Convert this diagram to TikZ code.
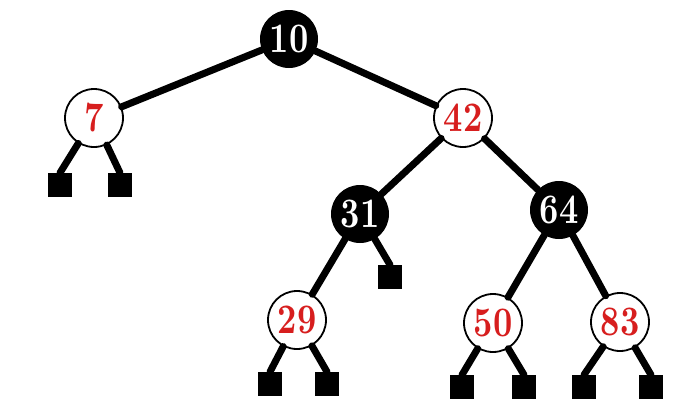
\documentclass[tikz,border=0pt]{standalone}
\usepackage{fontspec}
\setmainfont{Latin Modern Roman}
\newfontfamily\keyfont[FakeStretch=0.8]{lmroman10-bold.otf}
\begin{document}
\begin{tikzpicture}[x=1pt,y=-1pt,
  rbnode/.style={circle,minimum size=58pt,inner sep=0pt,font=\keyfont\fontsize{42}{42}\selectfont},
  blk/.style={rbnode,fill=black,text=white},
  red/.style={rbnode,fill=white,draw=black,line width=1.8pt,text=rbred},
  nil/.style={rectangle,fill=black,minimum size=24pt,inner sep=0pt},
  edge/.style={line width=7pt,line cap=round}]
\definecolor{rbred}{RGB}{215,30,30}
\useasboundingbox (0,0) rectangle (677,402);
% internal nodes
\node[blk] (n10) at (289,39) {10};
\node[red] (n7) at (94,118) {7};
\node[red] (n42) at (463,118) {42};
\node[blk] (n31) at (360,214) {31};
\node[blk] (n64) at (559,210) {64};
\node[red] (n29) at (297,320) {29};
\node[red] (n50) at (493,323) {50};
\node[red] (n83) at (620,322) {83};
% leaves
\node[nil] (l1) at (60,185) {};
\node[nil] (l2) at (120,185) {};
\node[nil] (l3) at (390,277) {};
\node[nil] (l4) at (270,384) {};
\node[nil] (l5) at (327,384) {};
\node[nil] (l6) at (462,387) {};
\node[nil] (l7) at (524,387) {};
\node[nil] (l8) at (584,387) {};
\node[nil] (l9) at (651,387) {};
% edges
\draw[edge] (n10) -- (n7);
\draw[edge] (n10) -- (n42);
\draw[edge] (n7) -- (l1.north);
\draw[edge] (n7) -- (l2.north);
\draw[edge] (n42) -- (n31);
\draw[edge] (n42) -- (n64);
\draw[edge] (n31) -- (n29);
\draw[edge] (n31) -- (l3.north);
\draw[edge] (n64) -- (n50);
\draw[edge] (n64) -- (n83);
\draw[edge] (n29) -- (l4.north);
\draw[edge] (n29) -- (l5.north);
\draw[edge] (n50) -- (l6.north);
\draw[edge] (n50) -- (l7.north);
\draw[edge] (n83) -- (l8.north);
\draw[edge] (n83) -- (l9.north);
\end{tikzpicture}
\end{document}
